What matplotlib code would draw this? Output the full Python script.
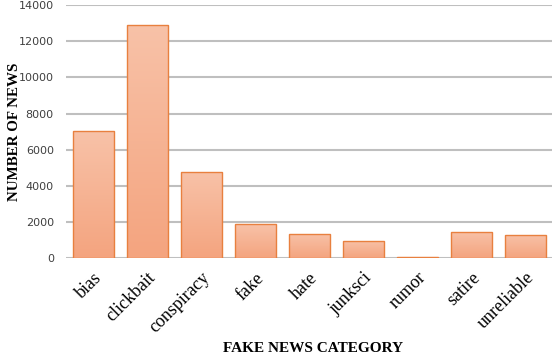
import matplotlib.pyplot as plt
import numpy as np
from matplotlib.colors import LinearSegmentedColormap

# data
categories = ['bias', 'clickbait', 'conspiracy', 'fake', 'hate', 'junksci', 'rumor', 'satire', 'unreliable']
counts = [7020, 12920, 4770, 1860, 1340, 950, 70, 1450, 1300]

fig = plt.figure(figsize=(5.53, 3.6), dpi=100)
ax = fig.add_axes([0.120, 0.283, 0.879, 0.703])

bars = ax.bar(range(len(categories)), counts, width=0.76, color='none',
              edgecolor='#E8803F', linewidth=1.0, zorder=3)

# vertical gradient fill inside each bar
cmap = LinearSegmentedColormap.from_list('grad', ['#F4A47F', '#F8C2A8'])
grad = np.linspace(0, 1, 256).reshape(-1, 1)
for b in bars:
    x0, w, h = b.get_x(), b.get_width(), b.get_height()
    im = ax.imshow(grad, cmap=cmap, aspect='auto', origin='lower',
                   extent=[x0, x0 + w, 0, h], zorder=2)
    im.set_clip_path(b)

ax.set_xlim(-0.5, len(categories) - 0.5)
ax.set_ylim(0, 14000)
ax.set_yticks(range(0, 14001, 2000))
ax.yaxis.grid(True, color='#BFBFBF', linewidth=1.5, zorder=0)
ax.set_axisbelow(True)
for s in ax.spines.values():
    s.set_visible(False)
ax.tick_params(length=0)
ax.tick_params(axis='y', labelsize=8, pad=9, labelcolor='#404040')

ax.set_xticks(range(len(categories)))
ax.set_xticklabels(categories, rotation=45, ha='right', rotation_mode='anchor',
                   family='Liberation Serif', fontsize=13)
ax.tick_params(axis='x', pad=8)

fig.text(0.027, 0.635, 'NUMBER OF NEWS', family='Liberation Serif', fontweight='bold',
         fontsize=10.8, rotation=90, ha='center', va='center')
fig.text(0.566, 0.031, 'FAKE NEWS CATEGORY', family='Liberation Serif', fontweight='bold',
         fontsize=11, ha='center', va='center')

fig.savefig('out.png', dpi=100)
